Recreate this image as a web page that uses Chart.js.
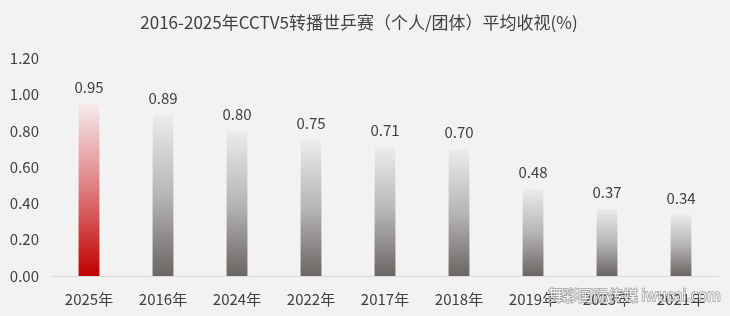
<!DOCTYPE html>
<html>
<head>
<meta charset="utf-8">
<script src="https://cdn.jsdelivr.net/npm/chart.js@4"></script>
<style>
  body { margin: 0; background: #f2f2f2; }
  #wrap { width: 730px; height: 316px; }
</style>
</head>
<body>
<div id="wrap"><canvas id="graphics" width="730" height="316"></canvas></div>
<script>
const title = '2016-2025年CCTV5转播世乒赛（个人/团体）平均收视(%)';
const years = ['2025年', '2016年', '2024年', '2022年', '2017年', '2018年', '2019年', '2023年', '2021年'];
const ratings = [0.95, 0.89, 0.80, 0.75, 0.71, 0.70, 0.48, 0.37, 0.34];
const watermark = '舞彩国际传媒 iwucai.com';

const FONT = '"Noto Sans CJK SC", "Noto Sans", sans-serif';
const TEXT = '#404040';

// per-bar vertical gradient, light at the bar top, dark at the base
function barFill(ctx) {
  const chart = ctx.chart;
  if (!chart.chartArea || ctx.raw == null) return '#999';
  const y = chart.scales.y;
  const top = y.getPixelForValue(ctx.raw);
  const bottom = y.getPixelForValue(0);
  const g = chart.ctx.createLinearGradient(0, top, 0, bottom);
  if (ctx.dataIndex === 0) {
    g.addColorStop(0, '#f6ecee');
    g.addColorStop(0.5, '#de7b7d');
    g.addColorStop(1, '#c00000');
  } else {
    g.addColorStop(0, '#ececec');
    g.addColorStop(0.5, '#b7b5b5');
    g.addColorStop(1, '#6b6563');
  }
  return g;
}

const valueLabels = {
  id: 'valueLabels',
  afterDatasetsDraw(chart) {
    const c = chart.ctx;
    const meta = chart.getDatasetMeta(0);
    c.save();
    c.font = '15px ' + FONT;
    c.fillStyle = TEXT;
    c.textAlign = 'center';
    c.textBaseline = 'bottom';
    meta.data.forEach((bar, i) => {
      c.fillText(ratings[i].toFixed(2), bar.x, bar.y - 9);
    });
    c.restore();
  }
};

const stamp = {
  id: 'stamp',
  afterDraw(chart) {
    const c = chart.ctx;
    c.save();
    c.font = '15px ' + FONT;
    c.textBaseline = 'middle';
    c.lineWidth = 1.5;
    c.strokeStyle = 'rgba(90,90,90,0.55)';
    c.fillStyle = 'rgba(255,255,255,0.85)';
    c.strokeText(watermark, 548, 295);
    c.fillText(watermark, 548, 295);
    c.restore();
  }
};

new Chart(document.getElementById('graphics').getContext('2d'), {
  type: 'bar',
  data: {
    labels: years,
    datasets: [{
      data: ratings,
      backgroundColor: barFill,
      borderColor: 'rgba(255,255,255,0.9)',
      borderWidth: { left: 1, right: 1, top: 0, bottom: 0 },
      borderSkipped: false,
      categoryPercentage: 1,
      barPercentage: 0.31
    }]
  },
  options: {
    responsive: false,
    animation: false,
    devicePixelRatio: 1,
    layout: { padding: { left: 0, right: 12, top: 0, bottom: 2 } },
    plugins: {
      legend: { display: false },
      tooltip: { enabled: false },
      title: {
        display: true,
        text: title,
        color: TEXT,
        font: { family: FONT, size: 17, weight: 'normal' },
        padding: { top: 12, bottom: 26 }
      }
    },
    scales: {
      x: {
        grid: { display: false },
        border: { color: '#d9d9d9', width: 1 },
        ticks: { color: TEXT, font: { family: FONT, size: 15 }, padding: 6 }
      },
      y: {
        min: 0,
        max: 1.2,
        grid: { display: false },
        border: { display: false },
        afterFit: scale => { scale.width = 52; },
        ticks: {
          stepSize: 0.2,
          color: TEXT,
          font: { family: FONT, size: 15 },
          padding: 5,
          callback: v => Number(v).toFixed(2)
        }
      }
    }
  },
  plugins: [valueLabels, stamp]
});
</script>
</body>
</html>
